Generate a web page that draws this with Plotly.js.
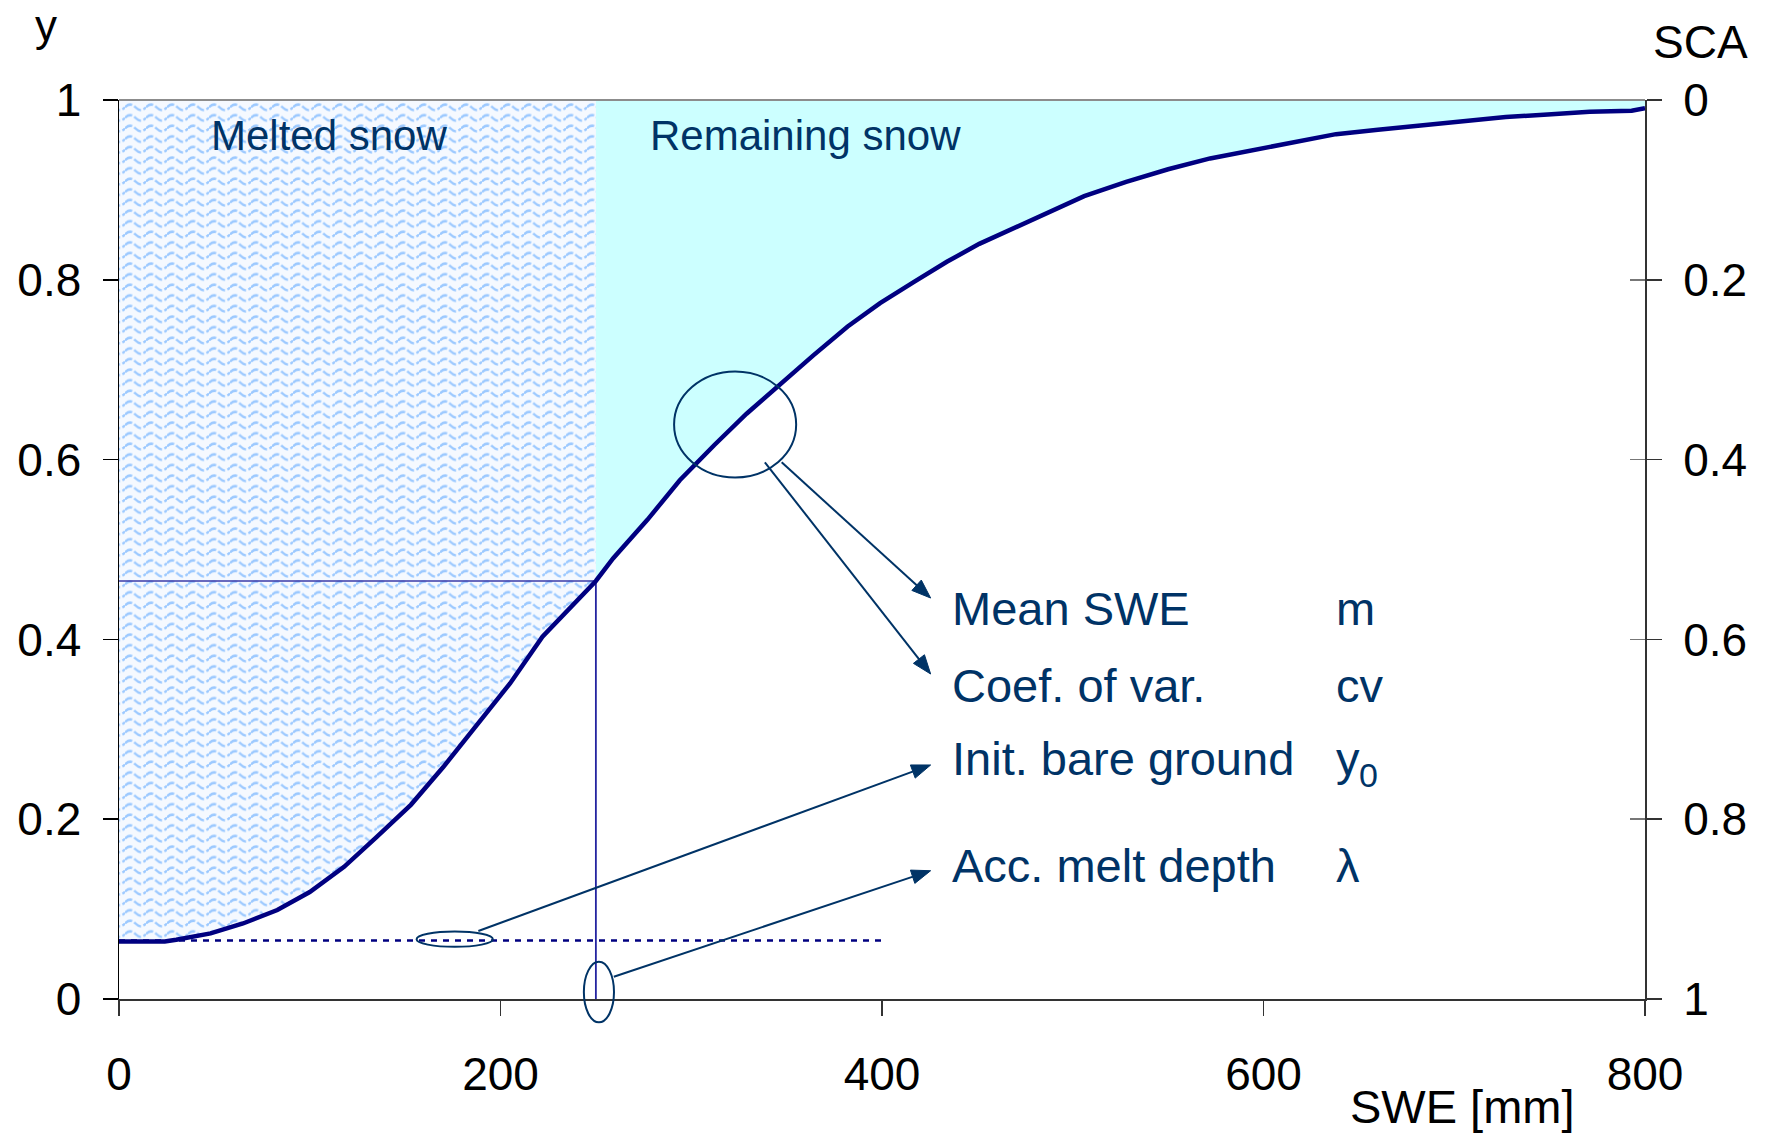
<!DOCTYPE html>
<html>
<head>
<meta charset="utf-8">
<script src="https://cdn.plot.ly/plotly-3.0.1.min.js"></script>
<style>
html,body{margin:0;padding:0;background:#ffffff;}
#chart{width:1774px;height:1136px;}
</style>
</head>
<body>
<div id="chart"></div>
<script>
// ---------- data ----------
const swe = [0, 24, 30, 48, 65, 83, 100, 118, 135, 153, 170, 188, 205, 222, 240, 250, 259, 277, 294, 312, 329, 347, 364, 382, 399, 417, 434, 451, 469, 486, 506, 528, 550, 572, 594, 616, 638, 660, 683, 705, 727, 749, 771, 793, 800];
const yCurve = [0.064, 0.064, 0.066, 0.073, 0.084, 0.099, 0.119, 0.147, 0.180, 0.216, 0.258, 0.305, 0.351, 0.403, 0.444, 0.465, 0.490, 0.533, 0.577, 0.616, 0.651, 0.685, 0.716, 0.748, 0.774, 0.798, 0.820, 0.840, 0.857, 0.873, 0.893, 0.909, 0.923, 0.935, 0.944, 0.953, 0.962, 0.967, 0.972, 0.976, 0.981, 0.984, 0.987, 0.988, 0.991];
const xTicks = [0, 200, 400, 600, 800];
const yTicks = [0, 0.2, 0.4, 0.6, 0.8, 1];
const y0Value = 0.065;        // initial bare ground
const lambdaValue = 250;      // accumulated melt depth
const yAtLambda = 0.465;
const dottedEnd = 400;
const regionLabels = ['Melted snow', 'Remaining snow'];
const paramLabels = ['Mean SWE', 'Coef. of var.', 'Init. bare ground', 'Acc. melt depth'];
const paramSymbols = ['m', 'cv', 'y', 'λ'];
const paramSubscripts = ['', '', '0', ''];
const axisTitles = {left: 'y', right: 'SCA', bottom: 'SWE [mm]'};

// ---------- layout geometry ----------
const W = 1774, H = 1136;
const M = {l: 119, r: 129, t: 100, b: 137};
const plotW = W - M.l - M.r, plotH = H - M.t - M.b;
const X_MAX = 800;
const pX = p => (p - M.l) / plotW;            // pixel -> paper
const pY = p => (H - M.b - p) / plotH;
const dX = v => v / X_MAX;                     // data -> paper
const dY = v => v;
const toPixX = v => M.l + v / X_MAX * plotW;   // data -> pixel
const toPixY = v => H - M.b - v * plotH;

const FONT = 'Liberation Sans, Arial, sans-serif';
const NAVY = '#000080';
const TXT = '#003366';

const leftX = [], leftY = [], rightX = [], rightY = [];
swe.forEach((x, i) => {
  if (x <= lambdaValue) { leftX.push(x); leftY.push(yCurve[i]); }
  if (x >= lambdaValue) { rightX.push(x); rightY.push(yCurve[i]); }
});

// wave pattern for melted snow area
const patW = lambdaValue / X_MAX * plotW, patH = plotH;
const svg = '<svg xmlns="http://www.w3.org/2000/svg" width="' + patW + '" height="' + patH + '" viewBox="0 0 ' + patW + ' ' + patH + '" preserveAspectRatio="none">' +
  '<defs><pattern id="w" x="6" y="2" width="21" height="10.6" patternUnits="userSpaceOnUse">' +
  '<path d="M0 5.3 C3.5 1.6, 7 1.6, 10.5 5.3 S17.5 9, 21 5.3" fill="none" stroke="#9cc9ff" stroke-width="2.4" stroke-dasharray="8 2.5"/>' +
  '</pattern></defs>' +
  '<rect width="100%" height="100%" fill="#f5f9ff"/>' +
  '<rect width="100%" height="100%" fill="url(#w)"/></svg>';
const svgURI = 'data:image/svg+xml;base64,' + btoa(svg);

const traces = [
  {x: [lambdaValue, X_MAX], y: [1, 1], mode: 'lines', line: {width: 0, color: 'rgba(0,0,0,0)'}, hoverinfo: 'skip', showlegend: false},
  {x: rightX, y: rightY, mode: 'lines', fill: 'tonexty', fillcolor: '#ccffff', line: {width: 0, color: 'rgba(0,0,0,0)'}, hoverinfo: 'skip', showlegend: false},
  {x: leftX, y: leftY, mode: 'lines', fill: 'tozeroy', fillcolor: '#ffffff', line: {width: 0, color: 'rgba(0,0,0,0)'}, hoverinfo: 'skip', showlegend: false},
  {x: [0, dottedEnd], y: [y0Value, y0Value], mode: 'lines', line: {color: NAVY, width: 2.5, dash: '6px,6px'}, showlegend: false},
  {x: [lambdaValue, lambdaValue], y: [0, yAtLambda], mode: 'lines', line: {color: '#2424a0', width: 1.8}, showlegend: false},
  {x: [0, lambdaValue], y: [yAtLambda, yAtLambda], mode: 'lines', line: {color: '#3a3aa8', width: 1.5}, showlegend: false},
  {x: swe, y: yCurve, mode: 'lines', line: {color: NAVY, width: 4.5}, showlegend: false},
  {x: [0], y: [0], yaxis: 'y2', mode: 'markers', marker: {opacity: 0}, hoverinfo: 'skip', showlegend: false},
  {x: [0], y: [0], yaxis: 'y3', mode: 'markers', marker: {opacity: 0}, hoverinfo: 'skip', showlegend: false}
];

const tickFont = {family: FONT, size: 46, color: '#000000'};

function textAnn(text, xLeft, baseline, size, color) {
  return {
    text: text, xref: 'paper', yref: 'paper',
    x: pX(xLeft - 2), y: pY(baseline - 0.905 * size - 2),
    xanchor: 'left', yanchor: 'top', showarrow: false,
    font: {family: FONT, size: size, color: color}
  };
}

const paramBase = [625, 702, 775, 882];
const annotations = [
  textAnn(regionLabels[0], 211, 150, 42, TXT),
  textAnn(regionLabels[1], 650, 150, 42, TXT),
  textAnn(axisTitles.left, 35, 41, 44, '#000000'),
  textAnn(axisTitles.right, 1653, 58, 46, '#000000'),
  textAnn(axisTitles.bottom, 1350, 1123, 47, '#000000')
];
paramLabels.forEach((t, i) => {
  annotations.push(textAnn(t, 952, paramBase[i], 47, TXT));
  annotations.push(textAnn(paramSymbols[i], 1336, paramBase[i], 47, TXT));
  if (paramSubscripts[i]) {
    annotations.push(textAnn(paramSubscripts[i], 1359, paramBase[i] + 12, 34, TXT));
  }
});

function ellipse(xa, xb, ya, yb) {
  return {type: 'circle', xref: 'paper', yref: 'paper',
    x0: dX(xa), x1: dX(xb), y0: dY(ya), y1: dY(yb),
    line: {color: TXT, width: 2}, fillcolor: 'rgba(0,0,0,0)', layer: 'above'};
}

// arrow = line + filled head, built in pixel space then mapped to paper
function arrowShapes(tailX, tailY, tipX, tipY) {
  const tx = toPixX(tailX), ty = toPixY(tailY), hx = toPixX(tipX), hy = toPixY(tipY);
  const len = Math.hypot(hx - tx, hy - ty);
  const ux = (hx - tx) / len, uy = (hy - ty) / len;
  const L = 19, w = 7;
  const bx = hx - L * ux, by = hy - L * uy;
  const nx = -uy, ny = ux;
  const pt = (x, y) => pX(x) + ',' + pY(y);
  return [
    {type: 'line', xref: 'paper', yref: 'paper', x0: pX(tx), y0: pY(ty), x1: pX(bx + 2 * ux), y1: pY(by + 2 * uy),
     line: {color: TXT, width: 2}, layer: 'above'},
    {type: 'path', xref: 'paper', yref: 'paper',
     path: 'M' + pt(hx, hy) + ' L' + pt(bx + w * nx, by + w * ny) + ' L' + pt(bx - w * nx, by - w * ny) + ' Z',
     fillcolor: TXT, line: {color: TXT, width: 1}, layer: 'above'}
  ];
}

const shapes = [
  {type: 'line', xref: 'paper', yref: 'paper', x0: 0, x1: 1, y0: 1, y1: 1, line: {color: '#8c8c8c', width: 2}},
  ellipse(291, 355, 0.58, 0.698),
  ellipse(156, 196, 0.058, 0.075),
  ellipse(243.7, 259.5, -0.026, 0.0415)
].concat(
  arrowShapes(347.4, 0.597, 425.5, 0.446),
  arrowShapes(338.6, 0.597, 425.5, 0.3615),
  arrowShapes(188.4, 0.0756, 425.5, 0.2603),
  arrowShapes(259.4, 0.0248, 425.5, 0.1427)
);

const layout = {
  width: W, height: H,
  margin: M,
  paper_bgcolor: '#ffffff',
  plot_bgcolor: 'rgba(0,0,0,0)',
  font: {family: FONT, color: '#000000'},
  showlegend: false,
  xaxis: {
    range: [0, X_MAX], tickvals: xTicks, ticks: 'outside', ticklen: 15, tickwidth: 1.5, tickcolor: '#333333',
    showline: true, linecolor: '#333333', linewidth: 2, showgrid: false, zeroline: false,
    tickfont: tickFont, ticklabelstandoff: 19, fixedrange: true
  },
  yaxis: {
    range: [0, 1], tickvals: yTicks, ticks: 'outside', ticklen: 15, tickwidth: 1.5, tickcolor: '#000000',
    showline: true, linecolor: '#000000', linewidth: 1.5, showgrid: false, zeroline: false,
    tickfont: tickFont, ticklabelstandoff: 12, fixedrange: true
  },
  yaxis2: {
    overlaying: 'y', side: 'right', anchor: 'x', range: [1, 0], tickvals: yTicks, ticks: 'outside', ticklen: 15,
    tickwidth: 1.5, tickcolor: '#333333', showline: true, linecolor: '#333333', linewidth: 2,
    showgrid: false, zeroline: false, tickfont: tickFont, ticklabelstandoff: 12, fixedrange: true
  },
  yaxis3: {
    overlaying: 'y', side: 'right', anchor: 'x', range: [1, 0], tickvals: yTicks, ticks: 'inside', ticklen: 15,
    tickwidth: 1.5, tickcolor: '#777777', showline: false, showticklabels: false,
    showgrid: false, zeroline: false, fixedrange: true
  },
  images: [{
    source: svgURI, xref: 'x', yref: 'y', x: 0, y: 1, sizex: lambdaValue, sizey: 1,
    xanchor: 'left', yanchor: 'top', sizing: 'stretch', layer: 'below'
  }],
  shapes: shapes,
  annotations: annotations
};

Plotly.newPlot('chart', traces, layout, {staticPlot: true, displayModeBar: false});
</script>
</body>
</html>
